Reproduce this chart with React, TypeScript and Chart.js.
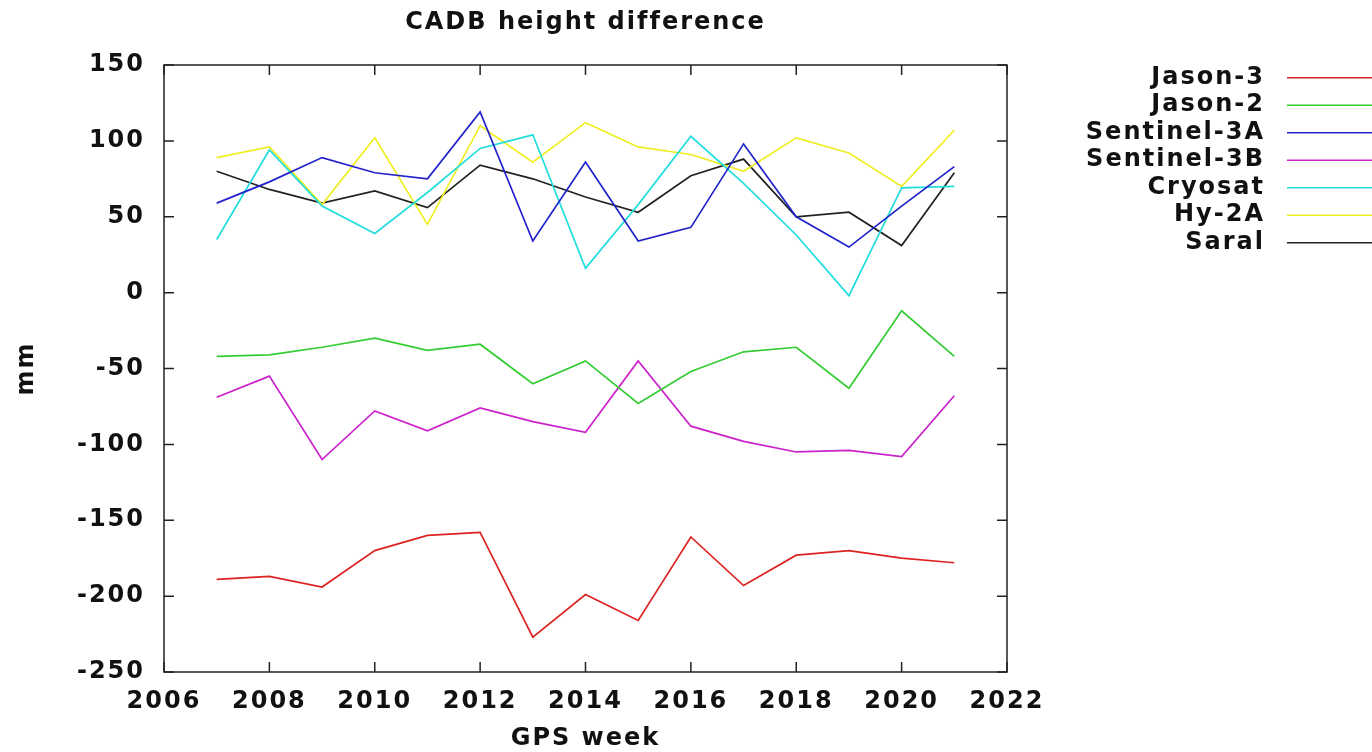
import React, { useEffect, useRef } from 'react';
import { Chart, registerables } from 'chart.js';

Chart.register(...registerables);

const TITLE = 'CADB height difference';
const X_TITLE = 'GPS week';
const Y_TITLE = 'mm';

const years = [2007, 2008, 2009, 2010, 2011, 2012, 2013, 2014, 2015, 2016, 2017, 2018, 2019, 2020, 2021];

const jason3 = [-189, -187, -194, -170, -160, -158, -227, -199, -216, -161, -193, -173, -170, -175, -178];
const jason2 = [-42, -41, -36, -30, -38, -34, -60, -45, -73, -52, -39, -36, -63, -12, -42];
const sentinel3A = [59, 73, 89, 79, 75, 119, 34, 86, 34, 43, 98, 50, 30, 57, 83];
const sentinel3B = [-69, -55, -110, -78, -91, -76, -85, -92, -45, -88, -98, -105, -104, -108, -68];
const cryosat = [35, 94, 57, 39, 66, 95, 104, 16, 58, 103, 72, 38, -2, 69, 70];
const hy2a = [89, 96, 58, 102, 45, 110, 86, 112, 96, 91, 80, 102, 92, 70, 107];
const saral = [80, 68, 59, 67, 56, 84, 75, 63, 53, 77, 88, 50, 53, 31, 79];

const seriesNames = ['Jason-3', 'Jason-2', 'Sentinel-3A', 'Sentinel-3B', 'Cryosat', 'Hy-2A', 'Saral'];
const seriesColors = ['#dd2222', '#33cc33', '#2222cc', '#cc22cc', '#22dddd', '#eeee22', '#222222'];

const xMin = 2006;
const xMax = 2022;
const xStep = 2;
const yMin = -250;
const yMax = 150;
const yStep = 50;

const FONT = "'DejaVu Sans', sans-serif";
const TEXT_COLOR = '#111111';
const SPACING = '2px';

export default function App() {
  const ref = useRef<HTMLCanvasElement>(null);

  useEffect(() => {
    document.body.style.margin = '0';
    const seriesValues = [jason3, jason2, sentinel3A, sentinel3B, cryosat, hy2a, saral];
    const datasets = seriesNames.map((name, i) => ({
      label: name,
      data: years.map((x, j) => ({ x, y: seriesValues[i][j] })),
      borderColor: seriesColors[i],
      backgroundColor: seriesColors[i],
      borderWidth: 1.7,
      pointRadius: 0,
      tension: 0,
      fill: false,
    }));

    const spacingPlugin = {
      id: 'spacing',
      beforeUpdate(c: any) {
        c.ctx.letterSpacing = SPACING;
      },
      beforeDraw(c: any) {
        c.ctx.letterSpacing = SPACING;
      },
    };

    const framePlugin = {
      id: 'frame',
      afterDatasetsDraw(c: any) {
        const { ctx, chartArea } = c;
        const { left, right, top, bottom } = chartArea;
        const xs = c.scales.x;
        const ys = c.scales.y;
        const len = 10;
        ctx.save();
        ctx.strokeStyle = '#222222';
        ctx.lineWidth = 1.5;
        ctx.beginPath();
        xs.ticks.forEach((t: any) => {
          const px = xs.getPixelForValue(t.value);
          ctx.moveTo(px, bottom);
          ctx.lineTo(px, bottom - len);
          ctx.moveTo(px, top);
          ctx.lineTo(px, top + len);
        });
        ys.ticks.forEach((t: any) => {
          const py = ys.getPixelForValue(t.value);
          ctx.moveTo(left, py);
          ctx.lineTo(left + len, py);
          ctx.moveTo(right, py);
          ctx.lineTo(right - len, py);
        });
        ctx.stroke();
        ctx.strokeRect(left, top, right - left, bottom - top);
        ctx.restore();
      },
    };

    const legendPlugin = {
      id: 'gpLegend',
      afterDraw(c: any) {
        const { ctx, chartArea } = c;
        ctx.save();
        ctx.letterSpacing = SPACING;
        ctx.font = `bold 24px ${FONT}`;
        ctx.textAlign = 'right';
        ctx.textBaseline = 'middle';
        const textRight = chartArea.right + 258;
        const lineStart = chartArea.right + 280;
        const lineEnd = c.width;
        c.data.datasets.forEach((ds: any, i: number) => {
          const y = chartArea.top + 12.7 + i * 27.5;
          ctx.fillStyle = TEXT_COLOR;
          ctx.fillText(ds.label, textRight, y);
          ctx.strokeStyle = ds.borderColor;
          ctx.lineWidth = 1.5;
          ctx.beginPath();
          ctx.moveTo(lineStart, y);
          ctx.lineTo(lineEnd, y);
          ctx.stroke();
        });
        ctx.restore();
      },
    };

    const tickFont = { family: FONT, size: 24, weight: 'bold' as const };

    const chart = new Chart(ref.current as HTMLCanvasElement, {
      type: 'line',
      data: { datasets },
      options: {
        responsive: false,
        animation: false,
        layout: { padding: { left: 0, right: 365, top: 0, bottom: 0 } },
        plugins: {
          legend: { display: false },
          tooltip: { enabled: false },
          title: {
            display: true,
            text: TITLE,
            fullSize: false,
            color: TEXT_COLOR,
            font: { family: FONT, size: 24, weight: 'bold' },
            padding: { top: 8, bottom: 28.2 },
          },
        },
        scales: {
          x: {
            type: 'linear',
            min: xMin,
            max: xMax,
            ticks: {
              stepSize: xStep,
              color: TEXT_COLOR,
              font: tickFont,
              padding: 15,
              maxRotation: 0,
              callback: (v: any) => String(v),
            },
            grid: { display: false, drawTicks: false },
            border: { display: false },
            title: {
              display: true,
              text: X_TITLE,
              color: TEXT_COLOR,
              font: tickFont,
              padding: { top: 0, bottom: -1 },
            },
            afterFit: (s: any) => {
              s.height = 80;
            },
          },
          y: {
            type: 'linear',
            min: yMin,
            max: yMax,
            ticks: {
              stepSize: yStep,
              color: TEXT_COLOR,
              font: tickFont,
              padding: 19,
              callback: (v: any) => String(v),
            },
            grid: { display: false, drawTicks: false },
            border: { display: false },
            title: {
              display: true,
              text: Y_TITLE,
              color: TEXT_COLOR,
              font: tickFont,
              padding: { top: 12, bottom: 0 },
            },
            afterFit: (s: any) => {
              s.width = 164;
            },
          },
        },
      },
      plugins: [spacingPlugin, framePlugin, legendPlugin],
    } as any);

    return () => chart.destroy();
  }, []);

  return <canvas ref={ref} width={1372} height={752} style={{ display: 'block' }} />;
}
